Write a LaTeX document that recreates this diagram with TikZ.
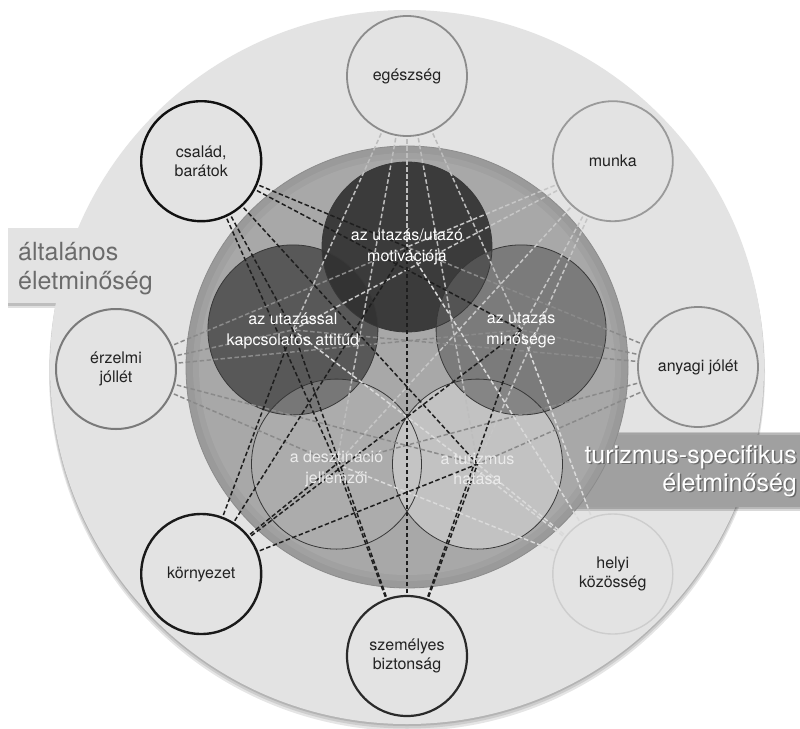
\documentclass[tikz,border=0pt]{standalone}
\usepackage{fontspec}
\setmainfont{TeX Gyre Heros}
\pgfdeclarelayer{bg}
\pgfdeclarelayer{mid}
\pgfsetlayers{bg,mid,main}
\definecolor{diskc}{HTML}{E3E3E3}
\definecolor{innerdisk}{HTML}{A8A8A8}
\definecolor{innerrim}{HTML}{9A9A9A}
\definecolor{bandc}{HTML}{A0A0A0}
\definecolor{ctxt}{HTML}{222222}
\definecolor{gentxt}{HTML}{6B6B6B}
\definecolor{cMot}{HTML}{303030}
\definecolor{cAtt}{HTML}{4A4A4A}
\definecolor{cMin}{HTML}{636363}
\definecolor{cDes}{HTML}{B4B4B4}
\definecolor{cTur}{HTML}{DCDCDC}
\definecolor{lnK}{HTML}{1E1E1E}
\definecolor{lnA}{HTML}{BDBDBD}
\definecolor{lnB}{HTML}{C6C6C6}
\definecolor{lnC}{HTML}{8A8A8A}
\definecolor{lnD}{HTML}{DADADA}
\definecolor{stEg}{HTML}{8C8C8C}
\definecolor{stMu}{HTML}{9A9A9A}
\definecolor{stAn}{HTML}{8C8C8C}
\definecolor{stHe}{HTML}{CDCDCD}
\definecolor{stSz}{HTML}{2A2A2A}
\definecolor{stKo}{HTML}{1A1A1A}
\definecolor{stEr}{HTML}{7A7A7A}
\definecolor{stCs}{HTML}{111111}
\begin{document}
\begin{tikzpicture}[x=1pt,y=-1pt,
  outerc/.style={circle, minimum size=120pt, inner sep=0pt, fill=diskc, align=center, text=ctxt, font=\fontsize{16}{19.5}\selectfont},
  innerc/.style={circle, minimum size=170pt, inner sep=0pt},
  innertext/.style={inner sep=0pt, align=center, text=white, font=\fontsize{16}{20.5}\selectfont},
  innerline/.style={draw=black!78, line width=0.8pt},
  conn/.style={dash pattern=on 4.5pt off 2.5pt, line width=1.5pt},
  biglabel/.style={inner sep=0pt, font=\fontsize{25}{29}\selectfont}]
\useasboundingbox (0,0) rectangle (800,728);
\begin{pgfonlayer}{bg}
  \fill[white] (0,0) rectangle (800,728);
  % outer disk shadow
  \fill[black, opacity=.10] (407,373) circle (358pt);
  \fill[black, opacity=.10] (407,371) circle (357.5pt);
  \fill[black, opacity=.12] (407,369) circle (357pt);
  \fill[black, opacity=.12] (8,230) rectangle (120,308);
  \fill[black, opacity=.15] (8,229) rectangle (120,306);
  % outer disk and tab
  \fill[diskc] (407,367) circle (357pt);
  \fill[diskc] (8,228) rectangle (120,303);
  % band
  \fill[black, opacity=.15] (560,432) rectangle (800,511);
  \fill[black, opacity=.15] (560,433) rectangle (800,509);
  \fill[bandc] (560,435) rectangle (800,507);
  % inner disk
  \fill[innerrim] (407,367) circle (221pt);
  \fill[innerdisk!50!innerrim] (407,367) circle (214pt);
  \fill[innerdisk] (407,367) circle (208pt);
  \draw[black!45, line width=0.8pt] (407,367) circle (221pt);
  % inner circles
  \node[innerc, fill=cAtt, fill opacity=.85] (att) at (292.9,329.9) {};
  \node[innerc, fill=cMot, fill opacity=.9] (mot) at (407,247) {};
  \node[innerc, fill=cDes, fill opacity=.34] (des) at (336.5,464.1) {};
  \node[innerc, fill=cTur, fill opacity=.5] (tur) at (477.5,464.1) {};
  \node[innerc, fill=cMin, fill opacity=.64] (min) at (521.1,329.9) {};
  \foreach \n in {att,mot,des,tur,min}
    \draw[innerline] (\n.center) circle (85pt);
\end{pgfonlayer}
% outer circles
\node[outerc, draw=stEg, line width=1.8pt] (eg) at (407,76) {egészség};
\node[outerc, draw=stMu, line width=1.8pt] (mu) at (612.8,161.2) {munka};
\node[outerc, draw=stAn, line width=1.8pt] (an) at (698,367) {anyagi jólét};
\node[outerc, draw=stHe, line width=1.4pt] (he) at (612.8,574) {helyi\\közösség};
\node[outerc, draw=stSz, line width=2.2pt] (sz) at (407,656) {személyes\\biztonság};
\node[outerc, draw=stKo, line width=2.4pt] (ko) at (201.2,574) {környezet};
\node[outerc, draw=stEr, line width=2pt] (er) at (116,369) {érzelmi\\jóllét};
\node[outerc, draw=stCs, line width=2.4pt] (cs) at (201.2,161.2) {család,\\barátok};
% dashed connectors
\begin{pgfonlayer}{mid}
  \foreach \o/\c in {eg/lnA, mu/lnB, an/lnC, he/lnD, er/lnC, sz/lnK, ko/lnK, cs/lnK}
    \foreach \i in {mot,att,min,des,tur}
      \draw[conn, draw=\c] (\o.center) -- (\i.center);
\end{pgfonlayer}
% inner labels
\node[innertext] (att-t) at (292.9,331) {az utazással\\kapcsolatos attitűd};
\node[innertext] (mot-t) at (407,247) {az utazás/utazó\\motivációja};
\node[innertext, text=white!92!black] (des-t) at (336.5,469) {a desztináció\\jellemzői};
\node[innertext, text=white!92!black] (tur-t) at (477.5,469) {a turizmus\\hatása};
\node[innertext] (min-t) at (521.1,330) {az utazás\\minősége};
% big labels
\node[biglabel, text=gentxt, anchor=base west] (gen1) at (18,260) {általános};
\node[biglabel, text=gentxt, anchor=base west] (gen2) at (18,289) {életminőség};
\node[biglabel, text=black!65, opacity=.8, anchor=base east] (ts1s) at (798.5,464.5) {turizmus-specifikus};
\node[biglabel, text=black!65, opacity=.8, anchor=base east] (ts2s) at (798.5,492.5) {életminőség};
\node[biglabel, text=white, anchor=base east] (ts1) at (797,463) {turizmus-specifikus};
\node[biglabel, text=white, anchor=base east] (ts2) at (797,491) {életminőség};
\end{tikzpicture}
\end{document}
